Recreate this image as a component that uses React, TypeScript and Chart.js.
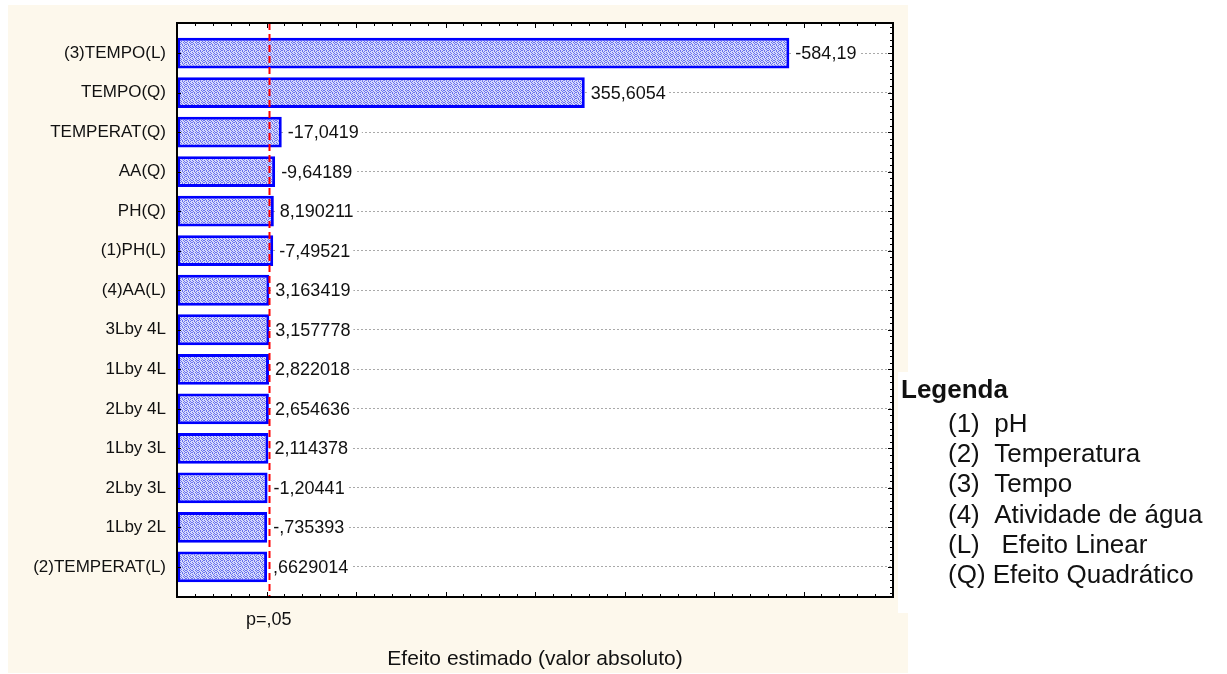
import { useEffect, useRef } from 'react';
import { Chart, registerables } from 'chart.js';

Chart.register(...registerables);

// Pareto chart of standardized effects
const FACTORS = [
  '(3)TEMPO(L)',
  'TEMPO(Q)',
  'TEMPERAT(Q)',
  'AA(Q)',
  'PH(Q)',
  '(1)PH(L)',
  '(4)AA(L)',
  '3Lby 4L',
  '1Lby 4L',
  '2Lby 4L',
  '1Lby 3L',
  '2Lby 3L',
  '1Lby 2L',
  '(2)TEMPERAT(L)',
];
const EFFECTS = [
  -584.19, 355.6054, -17.0419, -9.64189, 8.190211, -7.49521, 3.163419, 3.157778,
  2.822018, 2.654636, 2.114378, -1.20441, -0.735393, 0.6629014,
];
const P_CRITICAL = 2.45;
const P_LABEL = 'p=,05';
const X_TITLE = 'Efeito estimado (valor absoluto)';
const X_MIN = -100;
const X_MAX = 700;
const LEGEND_TITLE = 'Legenda';
const LEGEND_ITEMS = [
  '(1)  pH',
  '(2)  Temperatura',
  '(3)  Tempo',
  '(4)  Atividade de água',
  '(L)   Efeito Linear',
  '(Q) Efeito Quadrático',
];

const FONT = '"Liberation Sans", Arial, sans-serif';
const INK = '#111111';
const CREAM = '#fdf8ec';

// Statistica-style number text: 7 significant digits, comma decimal, no leading zero
function formatEffect(v: number): string {
  let s = v.toPrecision(7);
  if (s.includes('.')) s = s.replace(/0+$/, '').replace(/\.$/, '');
  s = s.replace(/^(-?)0\./, '$1.');
  return s.replace('.', ',');
}

function makeDotPattern(ctx: CanvasRenderingContext2D): CanvasPattern | string {
  const rows = ['BLLBLB', 'LBLLBL', 'BLBLLB', 'LLBLBL', 'BLLBLL', 'LBLLBL'];
  const c = document.createElement('canvas');
  c.width = 6;
  c.height = 6;
  const p = c.getContext('2d');
  if (!p) return '#aab0f4';
  rows.forEach((r, y) => {
    for (let x = 0; x < r.length; x++) {
      p.fillStyle = r[x] === 'B' ? '#6a72ee' : '#d6d9fb';
      p.fillRect(x, y, 1, 1);
    }
  });
  return ctx.createPattern(c, 'repeat') || '#aab0f4';
}

const decorPlugin = {
  id: 'paretoDecor',
  beforeDraw(chart: any) {
    const { ctx, chartArea: a, width, height } = chart;
    ctx.save();
    ctx.fillStyle = '#ffffff';
    ctx.fillRect(0, 0, width, height);
    ctx.fillStyle = CREAM;
    ctx.fillRect(8, 5, 900, 668);
    ctx.fillStyle = '#ffffff';
    ctx.fillRect(a.right + 5, 372, width - a.right - 5, 241);
    ctx.fillRect(a.left, a.top, a.right - a.left, a.bottom - a.top);
    ctx.restore();
  },
  afterDatasetsDraw(chart: any) {
    const { ctx, chartArea: a, scales } = chart;
    const xs = scales.x;
    const ys = scales.y;
    ctx.save();

    // value labels at bar ends
    ctx.font = `18px ${FONT}`;
    ctx.textBaseline = 'middle';
    ctx.textAlign = 'left';
    const meta = chart.getDatasetMeta(0);
    meta.data.forEach((el: any, i: number) => {
      const txt = formatEffect(EFFECTS[i]);
      const w = ctx.measureText(txt).width;
      ctx.fillStyle = '#ffffff';
      ctx.fillRect(el.x + 2, el.y - 9, w + 7, 18);
      ctx.fillStyle = INK;
      ctx.fillText(txt, el.x + 6, el.y + 1);
    });

    // significance line
    const px = Math.round(xs.getPixelForValue(P_CRITICAL)) + 0.5;
    ctx.strokeStyle = '#ff0000';
    ctx.lineWidth = 2;
    ctx.setLineDash([7, 4]);
    ctx.beginPath();
    ctx.moveTo(px, a.top);
    ctx.lineTo(px, a.bottom);
    ctx.stroke();
    ctx.setLineDash([]);

    // frame
    ctx.strokeStyle = '#000000';
    ctx.lineWidth = 2;
    ctx.strokeRect(a.left, a.top, a.right - a.left, a.bottom - a.top);

    // inward tick marks
    ctx.lineWidth = 1;
    ctx.beginPath();
    for (let v = X_MIN; v <= X_MAX; v += 20) {
      const x = Math.round(xs.getPixelForValue(v)) + 0.5;
      const len = v % 100 === 0 ? 4 : 2;
      ctx.moveTo(x, a.top + 1);
      ctx.lineTo(x, a.top + 1 + len);
      ctx.moveTo(x, a.bottom - 1);
      ctx.lineTo(x, a.bottom - 1 - len);
    }
    const kMin = Math.ceil(ys.min * 6);
    const kMax = Math.floor(ys.max * 6);
    for (let k = kMin; k <= kMax; k++) {
      const y = Math.round(ys.getPixelForValue(k / 6)) + 0.5;
      const major = k % 6 === 0;
      ctx.moveTo(a.right - 1, y);
      ctx.lineTo(a.right - 1 - (major ? 4 : 2), y);
      if (major) {
        ctx.moveTo(a.left + 1, y);
        ctx.lineTo(a.left + 4, y);
      }
    }
    ctx.stroke();
    ctx.restore();
  },
  afterDraw(chart: any) {
    const { ctx, chartArea: a } = chart;
    ctx.save();
    ctx.fillStyle = INK;
    ctx.textBaseline = 'alphabetic';

    ctx.font = `21px ${FONT}`;
    ctx.textAlign = 'center';
    ctx.fillText(X_TITLE, (a.left + a.right) / 2, 665);

    ctx.textAlign = 'left';
    ctx.font = `bold 26px ${FONT}`;
    ctx.fillText(LEGEND_TITLE, 901, 398);
    ctx.font = `26px ${FONT}`;
    LEGEND_ITEMS.forEach((t, i) => {
      ctx.fillText(t, 948, 432 + i * 30.2);
    });
    ctx.restore();
  },
};

export default function App() {
  const canvasRef = useRef<HTMLCanvasElement | null>(null);

  useEffect(() => {
    const canvas = canvasRef.current;
    if (!canvas) return;
    const ctx = canvas.getContext('2d');
    if (!ctx) return;
    const fill = makeDotPattern(ctx);

    const chart = new Chart(ctx, {
      type: 'bar',
      data: {
        datasets: [
          {
            data: EFFECTS.map((v, i) => ({ x: Math.abs(v), y: i })),
            base: X_MIN,
            backgroundColor: fill as any,
            borderColor: '#0000ff',
            borderWidth: 3,
            borderSkipped: false,
            barPercentage: 0.78,
            categoryPercentage: 1,
          } as any,
        ],
      },
      options: {
        indexAxis: 'y',
        animation: false,
        responsive: false,
        devicePixelRatio: 1,
        layout: { padding: { top: 23, right: 334, bottom: 0, left: 0 } },
        plugins: {
          legend: { display: false },
          tooltip: { enabled: false },
        },
        scales: {
          x: {
            type: 'linear',
            position: 'bottom',
            min: X_MIN,
            max: X_MAX,
            grid: { display: false, drawTicks: false },
            border: { display: false },
            afterBuildTicks: (s: any) => {
              s.ticks = [{ value: P_CRITICAL }];
            },
            afterFit: (s: any) => {
              s.height = 77;
            },
            ticks: {
              autoSkip: false,
              maxRotation: 0,
              padding: 12,
              color: INK,
              font: { family: FONT, size: 18 },
              callback: () => P_LABEL,
            },
          },
          y: {
            type: 'linear',
            position: 'left',
            reverse: true,
            offset: false,
            min: -0.76,
            max: FACTORS.length - 1 + 0.76,
            grid: { display: true, offset: false, drawTicks: false, color: '#a9a9a9', lineWidth: 1 },
            border: { display: false, dash: [2, 2] },
            afterBuildTicks: (s: any) => {
              s.ticks = FACTORS.map((_, i) => ({ value: i }));
            },
            afterFit: (s: any) => {
              s.width = 177;
            },
            ticks: {
              autoSkip: false,
              padding: 11,
              color: INK,
              font: { family: FONT, size: 17 },
              callback: (v: any) => FACTORS[Number(v)] ?? '',
            },
          },
        },
      },
      plugins: [decorPlugin],
    });

    return () => chart.destroy();
  }, []);

  return (
    <div style={{ position: 'absolute', left: 0, top: 0, width: 1227, height: 674 }}>
      <canvas ref={canvasRef} width={1227} height={674} style={{ display: 'block' }} />
    </div>
  );
}
